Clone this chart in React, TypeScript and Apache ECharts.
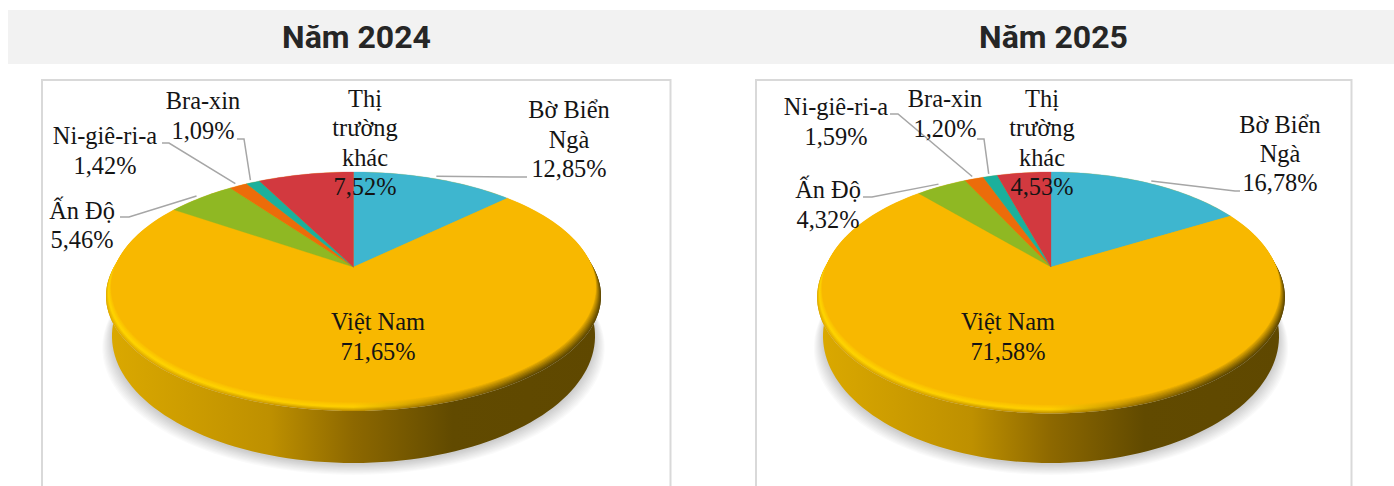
import React, { useEffect, useRef } from "react";
import * as echarts from "echarts";

const categories = ["Bờ Biển Ngà", "Việt Nam", "Ấn Độ", "Ni-giê-ri-a", "Bra-xin", "Thị trường khác"];
const wrappedNames = ["Bờ Biển\nNgà", "Việt Nam", "Ấn Độ", "Ni-giê-ri-a", "Bra-xin", "Thị\ntrường\nkhác"];
const values2024 = [12.85, 71.65, 5.46, 1.42, 1.09, 7.52];
const values2025 = [16.78, 71.58, 4.32, 1.59, 1.2, 4.53];
const titles = ["Năm 2024", "Năm 2025"];
const sliceColors = ["#3EB6CF", "#F8B800", "#8FB823", "#EC6C0A", "#1BB09C", "#D2393F"];

type P = [number, number];
const FONT = '"Liberation Serif", serif';
const BEVEL_DROP = 9;
const BEVEL_GROW = 0.022;

// Perspective projection of a unit disc: v points away from the viewer.
function projector(cx: number, y0: number, R: number, dTop: number, dBottom: number) {
  const b = (dBottom - dTop) / (dBottom + dTop);
  const a = dTop * (1 + b);
  return (deg: number, r = 1): P => {
    const t = (deg * Math.PI) / 180;
    const u = r * Math.sin(t);
    const v = r * Math.cos(t);
    const d = 1 + b * v;
    return [cx + (R * u) / d, y0 - (a * v) / d];
  };
}

function arc(p: (deg: number, r?: number) => P, from: number, to: number, step = 2): P[] {
  const out: P[] = [];
  const n = Math.max(1, Math.ceil(Math.abs(to - from) / step));
  for (let i = 0; i <= n; i++) out.push(p(from + ((to - from) * i) / n));
  return out;
}

function mix(c1: number[], c2: number[], t: number) {
  const c = c1.map((v, i) => Math.round(v + (c2[i] - v) * t));
  return `rgb(${c[0]},${c[1]},${c[2]})`;
}

const layout2024 = {
  cx: 353.5,
  y0: 267,
  R: 238.5,
  dTop: 95,
  dBottom: 135,
  baseR: 239.6,
  base: [320, 111, 143],
  labels: [
    [569, 139],
    [378, 336.5],
    [82, 225],
    [105, 150.5],
    [203, 115.5],
    [365, 142.5],
  ] as P[],
  elbows: [
    [[527, 177], [523, 177]],
    null,
    [[120, 217], [129, 217]],
    [[162, 143], [169, 143]],
    [[237, 139], [244, 139]],
    null,
  ] as (P[] | null)[],
};

const layout2025 = {
  cx: 1051,
  y0: 267,
  R: 225,
  dTop: 95,
  dBottom: 137.5,
  baseR: 226.2,
  base: [320, 111, 143],
  labels: [
    [1280, 153.5],
    [1008, 336.5],
    [828, 204.5],
    [836, 121.5],
    [945, 113.5],
    [1042, 142.5],
  ] as P[],
  elbows: [
    [[1240, 191], [1235, 191]],
    null,
    [[863, 197], [872, 197]],
    [[890, 114], [898, 114]],
    [[977, 139], [984, 139]],
    null,
  ] as (P[] | null)[],
};

function bodySeries(l: typeof layout2024) {
  return {
    type: "custom",
    coordinateSystem: "none",
    silent: true,
    z: 2,
    data: [1],
    renderItem: () => {
      const children: any[] = [];
      // soft ground shadow
      const base = projector(l.cx, l.base[0], l.baseR, l.base[1], l.base[2]);
      for (let i = 9; i >= 0; i--) {
        const g = projector(l.cx, l.base[0] + 2 + i * 1.1, l.baseR * (1 + i * 0.0045), l.base[1], l.base[2]);
        children.push({
          type: "polygon",
          shape: { points: arc(g, 0, 360, 3) },
          style: { fill: "rgba(0,0,0,0.02)" },
        });
      }
      // side wall
      const rim = projector(l.cx, l.y0 + BEVEL_DROP, l.R * (1 + BEVEL_GROW), l.dTop, l.dBottom);
      const wall = [...arc(rim, 80, 280), ...arc(base, 280, 80)];
      children.push({
        type: "polygon",
        shape: { points: wall },
        style: {
          fill: new echarts.graphic.LinearGradient(0, 0, 1, 0, [
            { offset: 0, color: "#DBA900" },
            { offset: 0.33, color: "#BE9000" },
            { offset: 0.5, color: "#8D6800" },
            { offset: 0.7, color: "#614A00" },
            { offset: 1, color: "#5F4800" },
          ]),
        },
      });
      // bevel between wall and top face
      const steps = 9;
      for (let i = 0; i < steps; i++) {
        const t = i / (steps - 1);
        const ring = projector(
          l.cx,
          l.y0 + BEVEL_DROP * (1 - t),
          l.R * (1 + BEVEL_GROW * (1 - t)),
          l.dTop,
          l.dBottom
        );
        const lit = t < 0.4 ? t / 0.4 : 1;
        const cool = t < 0.4 ? 0 : (t - 0.4) / 0.6;
        const face = [248, 184, 0];
        const left = cool > 0 ? mix([255, 214, 0], face, cool) : mix([226, 172, 0], [255, 214, 0], lit);
        const mid = cool > 0 ? mix([255, 208, 0], face, cool) : mix([196, 148, 0], [255, 208, 0], lit);
        const right = mix([96, 73, 0], face, Math.pow(t, 1.1));
        children.push({
          type: "polygon",
          shape: { points: arc(ring, 0, 360, 2) },
          style: {
            fill: new echarts.graphic.LinearGradient(0, 0, 1, 0, [
              { offset: 0, color: left },
              { offset: 0.5, color: mid },
              { offset: 0.68, color: mix([150, 112, 0], face, Math.pow(t, 0.9)) },
              { offset: 0.85, color: right },
              { offset: 1, color: right },
            ]),
          },
        });
      }
      return { type: "group", children };
    },
  };
}

function sliceSeries(values: number[], l: typeof layout2024) {
  const total = values.reduce((s, v) => s + v, 0);
  const starts: number[] = [];
  values.reduce((acc, v, i) => {
    starts[i] = acc;
    return acc + v;
  }, 0);
  const face = projector(l.cx, l.y0, l.R, l.dTop, l.dBottom);
  return {
    type: "custom",
    coordinateSystem: "none",
    silent: true,
    z: 3,
    data: values,
    renderItem: (params: any) => {
      const i = params.dataIndex;
      const a0 = (starts[i] / total) * 360;
      const a1 = ((starts[i] + values[i]) / total) * 360;
      const pts: P[] = [[l.cx, l.y0], ...arc(face, a0, a1, 1.5)];
      const children: any[] = [
        {
          type: "polygon",
          shape: { points: pts },
          style: { fill: sliceColors[i], stroke: sliceColors[i], lineWidth: 0.3 },
        },
      ];
      const elbow = l.elbows[i];
      if (elbow) {
        const end = face((a0 + a1) / 2, 1.03);
        children.push({
          type: "polyline",
          shape: { points: [...elbow, end] },
          style: { fill: "none", stroke: "#A6A6A6", lineWidth: 1.5 },
          z2: 5,
        });
      }
      children.push({
        type: "text",
        z2: 10,
        style: {
          text: `${wrappedNames[i]}\n${values[i].toFixed(2).replace(".", ",")}%`,
          x: l.labels[i][0],
          y: l.labels[i][1],
          align: "center",
          verticalAlign: "middle",
          font: `24.4px ${FONT}`,
          lineHeight: 29.3,
          fill: "#141414",
        },
      });
      return { type: "group", children };
    },
  };
}

export default function App() {
  const ref = useRef<HTMLDivElement>(null);
  useEffect(() => {
    document.body.style.margin = "0";
    const chart = echarts.init(ref.current!, undefined, { renderer: "svg" });
    const frame = (x: number, w: number) => ({
      type: "rect",
      z: 0,
      shape: { x, y: 80, width: w, height: 480 },
      style: { fill: "#FFFFFF", stroke: "#D9D9D9", lineWidth: 2 },
    });
    chart.setOption({
      animation: false,
      backgroundColor: "#FFFFFF",
      title: [
        { left: 351.5, text: titles[0] },
        { left: 1048.5, text: titles[1] },
      ].map((t) => ({
        ...t,
        top: 16,
        textAlign: "center",
        textStyle: { fontFamily: "Roboto", fontWeight: "bold", fontSize: 32, color: "#262626" },
      })),
      graphic: [
        { type: "rect", z: 0, shape: { x: 8, y: 10, width: 1386, height: 54 }, style: { fill: "#F2F2F2" } },
        frame(42, 628.5),
        frame(756, 595.5),
      ],
      series: [
        bodySeries(layout2024),
        sliceSeries(values2024, layout2024),
        bodySeries(layout2025),
        sliceSeries(values2025, layout2025),
      ],
    });
    return () => chart.dispose();
  }, []);
  return (
    <div
      ref={ref}
      aria-label={categories.join(", ")}
      style={{ position: "fixed", left: 0, top: 0, width: 1394, height: 486 }}
    />
  );
}
